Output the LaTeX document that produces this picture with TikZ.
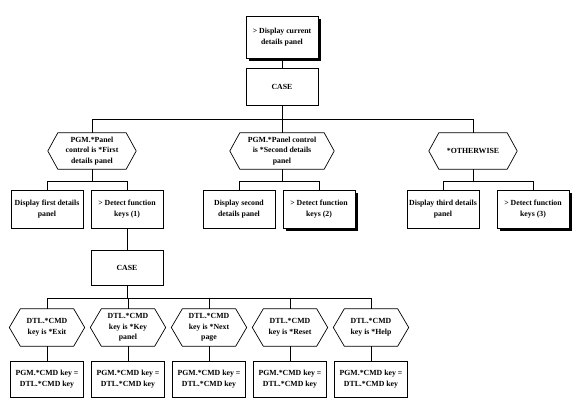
\documentclass[tikz,border=0pt]{standalone}
\usepackage{fontspec}
\setmainfont{Liberation Serif}
\usetikzlibrary{shadows}
\tikzset{
  base/.style={align=center, inner sep=0pt, font=\fontsize{7.8}{10.5}\selectfont\bfseries},
  box/.style={base, draw, line width=0.7pt, fill=white, minimum width=72pt, minimum height=38pt},
  shbox/.style={box, drop shadow={shadow xshift=3pt, shadow yshift=-3pt, fill=black, opacity=1}},
  hexa/.style={base, minimum height=36pt},
  link/.style={line width=0.7pt}
}
\newcommand{\hexoutline}[2][10pt]{%
  \draw[link] (#2.west) -- ([xshift=#1]#2.north west) -- ([xshift=-#1]#2.north east)
    -- (#2.east) -- ([xshift=-#1]#2.south east) -- ([xshift=#1]#2.south west) -- cycle;}
\begin{document}
\begin{tikzpicture}[x=1pt, y=-1pt]
\useasboundingbox (0,0) rectangle (580,409);
% top
\node[shbox, minimum height=42pt] (top) at (282,37) {> Display current\\details panel};
\node[box, minimum height=37pt] (case1) at (282,86.5) {CASE};
% level 2 hexagons
\node[hexa, minimum width=88pt] (h1) at (92,151) {PGM.*Panel\\control is *First\\details panel};
\node[hexa, minimum width=104pt] (h2) at (282,151) {PGM.*Panel control\\is *Second details\\panel};
\node[hexa, minimum width=88pt] (h3) at (473,151) {*OTHERWISE};
\hexoutline{h1}\hexoutline{h2}\hexoutline{h3}
% level 2 boxes
\node[box] (d1) at (47,209) {Display first details\\panel};
\node[box] (k1) at (127,209) {> Detect function\\keys (1)};
\node[box] (d2) at (239,209) {Display second\\details panel};
\node[shbox] (k2) at (319,209) {> Detect function\\keys (2)};
\node[box] (d3) at (443,209) {Display third details\\panel};
\node[shbox] (k3) at (533,209) {> Detect function\\keys (3)};
% case 2
\node[box, minimum height=35pt] (case2) at (127,267.5) {CASE};
% level 4 hexagons
\foreach \n/\x/\t in {e1/47/{DTL.*CMD\\key is *Exit}, e2/128/{DTL.*CMD\\key is *Key\\panel},
  e3/209/{DTL.*CMD\\key is *Next\\page}, e4/290/{DTL.*CMD\\key is *Reset},
  e5/371/{DTL.*CMD\\key is *Help}}{
  \node[hexa, minimum width=75pt, minimum height=37pt] (\n) at (\x,327.5) {\t};
  \hexoutline[11pt]{\n}
}
\foreach \n/\x in {p1/47, p2/128, p3/209, p4/290, p5/371}{
  \node[box, minimum width=73pt, minimum height=36pt] (\n) at (\x,379) {PGM.*CMD key =\\DTL.*CMD key};
}
% connectors
\coordinate (j1) at (282,119);
\coordinate (j2) at (127,298);
\draw[link] (top) -- (case1);
\draw[link] (case1) -- (j1);
\draw[link] (j1) -| (h1.north);
\draw[link] (j1) -- (h2.north);
\draw[link] (j1) -| (h3.north);
\foreach \h/\a/\b in {h1/d1/k1, h2/d2/k2, h3/d3/k3}{
  \draw[link] (\h.south) -- ++(0,12) coordinate (f);
  \draw[link] (f) -| (\a.north);
  \draw[link] (f) -| (\b.north);
}
\draw[link] (k1) -- (case2);
\draw[link] (case2) -- (j2);
\foreach \n/\p in {e1/p1, e2/p2, e3/p3, e4/p4, e5/p5}{
  \draw[link] (j2) -| (\n.north);
  \draw[link] (\n) -- (\p);
}
\end{tikzpicture}
\end{document}
